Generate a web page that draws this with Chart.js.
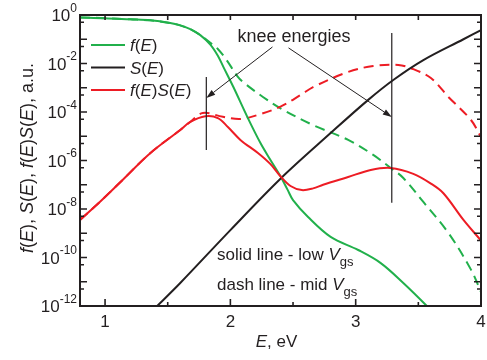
<!DOCTYPE html>
<html>
<head>
<meta charset="utf-8">
<script src="https://cdn.jsdelivr.net/npm/chart.js@4.4.0/dist/chart.umd.min.js"></script>
<style>
html,body{margin:0;padding:0;background:#fff}
</style>
</head>
<body>
<canvas id="grafico" width="487" height="360"></canvas>
<script>
// energies (eV) and values
var eFSolid = [0.8, 1.0, 1.2, 1.36, 1.52, 1.6, 1.68, 1.76, 1.84, 1.9, 1.944, 2.024, 2.136, 2.24, 2.32, 2.4, 2.456, 2.5, 2.62, 2.8, 3.02, 3.2, 3.38, 3.56, 3.6]
var fSolid = [0.794, 0.741, 0.661, 0.603, 0.468, 0.372, 0.263, 0.148, 0.0603, 0.0209, 7.24e-3, 1.07e-3, 6.17e-5, 5.25e-6, 1.05e-6, 2.24e-7, 6.31e-8, 2.34e-8, 4.68e-9, 7.08e-10, 2.04e-10, 5.89e-11, 8.91e-12, 1.1e-12, 6.31e-13]

var eFDash = [0.8, 1.0, 1.2, 1.36, 1.52, 1.6, 1.68, 1.76, 1.84, 1.9, 1.97, 2.06, 2.11, 2.26, 2.4, 2.66, 2.94, 3.14, 3.28, 3.38, 3.54, 3.74, 3.92, 4.0]
var fDash = [0.794, 0.741, 0.661, 0.603, 0.468, 0.372, 0.263, 0.148, 0.0708, 0.0398, 0.0138, 2.82e-3, 1.58e-3, 4.17e-4, 1.41e-4, 2.88e-5, 7.08e-6, 1.70e-6, 4.90e-7, 1.91e-7, 1.95e-8, 1.02e-9, 3.16e-11, 3.8e-12]

var eS = [1.4, 1.6, 2.0, 2.4, 2.8, 3.1, 3.3, 3.54, 3.86, 4.0]
var sVal = [8.3e-13, 8.91e-12, 1.35e-9, 1.78e-7, 1.35e-5, 3.16e-4, 2.09e-3, 0.0138, 0.1, 0.24]

var eFSSolid = [0.8, 0.96, 1.14, 1.36, 1.6, 1.68, 1.8, 1.9, 1.98, 2.08, 2.22, 2.32, 2.4, 2.48, 2.57, 2.66, 2.74, 2.94, 3.12, 3.28, 3.46, 3.6, 3.7, 3.86, 4.0]
var fsSolid = [3.55e-9, 2.0e-8, 1.58e-7, 2.0e-6, 1.82e-5, 3.89e-5, 6.61e-5, 5.62e-5, 2.40e-5, 7.08e-6, 2.04e-6, 7.08e-7, 2.24e-7, 8.91e-8, 6.03e-8, 7.08e-8, 1.0e-7, 2.09e-7, 4.07e-7, 4.90e-7, 2.82e-7, 1.12e-7, 4.47e-8, 3.55e-9, 5.01e-10]

var eFSDash = [0.8, 0.96, 1.14, 1.36, 1.6, 1.68, 1.78, 1.94, 2.08, 2.22, 2.4, 2.56, 2.66, 2.94, 3.14, 3.34, 3.44, 3.6, 3.74, 3.92, 4.0]
var fsDash = [3.55e-9, 2.0e-8, 1.58e-7, 2.0e-6, 1.82e-5, 3.89e-5, 9.12e-5, 6.31e-5, 5.13e-5, 7.59e-5, 1.66e-4, 5.01e-4, 1.07e-3, 4.47e-3, 7.94e-3, 8.71e-3, 6.46e-3, 2.51e-3, 4.17e-4, 4.68e-5, 9.33e-6]

// axes
var xTicks = [1, 1.5, 2, 2.5, 3, 3.5, 4]
var xLabels = ['1', '', '2', '', '3', '', '4']
var yDecades = [1e-12, 1e-11, 1e-10, 1e-9, 1e-8, 1e-7, 1e-6, 1e-5, 1e-4, 1e-3, 1e-2, 1e-1, 1]
var yHalf = [5e-12, 5e-11, 5e-10, 5e-9, 5e-8, 5e-7, 5e-6, 5e-5, 5e-4, 5e-3, 5e-2, 5e-1]
var yLabelVals = [1, 1e-2, 1e-4, 1e-6, 1e-8, 1e-10, 1e-12]
var yLabelExps = ['0', '-2', '-4', '-6', '-8', '-10', '-12']

// knee markers: E position, and top/bottom of the marker line
var kneeE = [1.808, 3.288]
var kneeTop = [2.8e-3, 0.18]
var kneeBottom = [2.7e-6, 1.8e-8]
// arrows from the text to the markers [E0, y0, E1, y1]
var arrows = [[2.336, 0.048, 1.808, 3.8e-4], [2.464, 0.044, 3.288, 6.2e-5]]

var VERDE = '#21b04b'
var PRETO = '#231f20'
var VERMELHO = '#ed1c24'
var FONTE = '"Liberation Sans", Arial, sans-serif'

function pontos(xs, ys) {
    return xs.map(function(x, i) { return { x: x, y: ys[i] } })
}

// draws text made of pieces: [text, style] style '' | 'i' | 'sub' | 'sup'
function textoRico(ctx, partes, x, y, tam, align) {
    function fonte(st) {
        var it = st == 'i' ? 'italic ' : ''
        var t = st == 'sub' ? Math.round(tam * 0.76) : (st == 'sup' ? Math.round(tam * 0.7) : tam)
        return it + t + 'px ' + FONTE
    }
    var total = 0
    partes.forEach(function(p) { ctx.font = fonte(p[1]); total += ctx.measureText(p[0]).width })
    var cx = x
    if (align == 'center') cx = x - total / 2
    if (align == 'right') cx = x - total
    ctx.textAlign = 'left'
    ctx.textBaseline = 'alphabetic'
    partes.forEach(function(p) {
        ctx.font = fonte(p[1])
        var dy = 0
        if (p[1] == 'sub') dy = tam * 0.36
        if (p[1] == 'sup') dy = -tam * 0.53
        ctx.fillText(p[0], cx, y + dy)
        cx += ctx.measureText(p[0]).width
    })
}

function seta(ctx, x0, y0, x1, y1) {
    var ang = Math.atan2(y1 - y0, x1 - x0)
    var L = 9, W = 3
    ctx.beginPath()
    ctx.moveTo(x0, y0)
    ctx.lineTo(x1 - L * Math.cos(ang), y1 - L * Math.sin(ang))
    ctx.stroke()
    ctx.beginPath()
    ctx.moveTo(x1, y1)
    ctx.lineTo(x1 - L * Math.cos(ang) + W * Math.sin(ang), y1 - L * Math.sin(ang) - W * Math.cos(ang))
    ctx.lineTo(x1 - L * Math.cos(ang) - W * Math.sin(ang), y1 - L * Math.sin(ang) + W * Math.cos(ang))
    ctx.closePath()
    ctx.fill()
}

var enfeites = {
    id: 'enfeites',
    afterDatasetsDraw: function(chart) {
        var ctx = chart.ctx
        var a = chart.chartArea
        var sx = chart.scales.x
        var sy = chart.scales.y
        ctx.save()
        ctx.strokeStyle = PRETO
        ctx.fillStyle = PRETO

        // knee markers and arrows
        ctx.lineWidth = 1.2
        kneeE.forEach(function(e, i) {
            var px = sx.getPixelForValue(e)
            ctx.beginPath()
            ctx.moveTo(px, sy.getPixelForValue(kneeTop[i]))
            ctx.lineTo(px, sy.getPixelForValue(kneeBottom[i]))
            ctx.stroke()
        })
        ctx.lineWidth = 1
        arrows.forEach(function(s) {
            seta(ctx, sx.getPixelForValue(s[0]), sy.getPixelForValue(s[1]), sx.getPixelForValue(s[2]), sy.getPixelForValue(s[3]))
        })

        // frame
        ctx.lineWidth = 2
        ctx.strokeRect(a.left, a.top, a.right - a.left, a.bottom - a.top)

        // ticks, inward
        ctx.lineWidth = 1.6
        ctx.beginPath()
        xTicks.forEach(function(v, i) {
            var px = sx.getPixelForValue(v)
            var len = xLabels[i] ? 7 : 4
            ctx.moveTo(px, a.bottom); ctx.lineTo(px, a.bottom - len)
            ctx.moveTo(px, a.top); ctx.lineTo(px, a.top + 5)
        })
        yDecades.forEach(function(v) {
            var py = sy.getPixelForValue(v)
            ctx.moveTo(a.left, py); ctx.lineTo(a.left + 7, py)
            ctx.moveTo(a.right, py); ctx.lineTo(a.right - 7, py)
        })
        yHalf.forEach(function(v) {
            var py = sy.getPixelForValue(v)
            ctx.moveTo(a.left, py); ctx.lineTo(a.left + 4, py)
            ctx.moveTo(a.right, py); ctx.lineTo(a.right - 4, py)
        })
        ctx.stroke()

        // tick labels
        ctx.textAlign = 'center'
        ctx.textBaseline = 'alphabetic'
        ctx.font = '17px ' + FONTE
        xTicks.forEach(function(v, i) {
            if (xLabels[i]) ctx.fillText(xLabels[i], sx.getPixelForValue(v), a.bottom + 21)
        })
        yLabelVals.forEach(function(v, i) {
            var py = sy.getPixelForValue(v)
            textoRico(ctx, [['10', ''], [yLabelExps[i], 'sup']], a.left - 3, py + 6, 17, 'right')
        })

        // axis titles
        textoRico(ctx, [['E', 'i'], [', eV', '']], (a.left + a.right) / 2 - 4, 347, 17, 'center')
        ctx.save()
        ctx.translate(33, 158)
        ctx.rotate(-Math.PI / 2)
        textoRico(ctx, [['f', 'i'], ['(', ''], ['E', 'i'], ['), ', ''], ['S', 'i'], ['(', ''], ['E', 'i'], ['), ', ''],
            ['f', 'i'], ['(', ''], ['E', 'i'], [')', ''], ['S', 'i'], ['(', ''], ['E', 'i'], ['), a.u.', '']], 0, 0, 18, 'center')
        ctx.restore()

        // legend
        var itens = [
            [VERDE, [['f', 'i'], ['(', ''], ['E', 'i'], [')', '']]],
            [PRETO, [['S', 'i'], ['(', ''], ['E', 'i'], [')', '']]],
            [VERMELHO, [['f', 'i'], ['(', ''], ['E', 'i'], [')', ''], ['S', 'i'], ['(', ''], ['E', 'i'], [')', '']]]
        ]
        itens.forEach(function(it, i) {
            var py = 45 + i * 22.5
            ctx.strokeStyle = it[0]
            ctx.lineWidth = 2
            ctx.beginPath()
            ctx.moveTo(a.left + 11, py)
            ctx.lineTo(a.left + 45, py)
            ctx.stroke()
            ctx.fillStyle = PRETO
            textoRico(ctx, it[1], a.left + 50, py + 6, 17, 'left')
        })

        // notes
        ctx.fillStyle = PRETO
        textoRico(ctx, [['knee energies', '']], 294, 42, 18, 'center')
        textoRico(ctx, [['solid line - low ', ''], ['V', 'i'], ['gs', 'sub']], 217, 260, 17, 'left')
        textoRico(ctx, [['dash line - mid ', ''], ['V', 'i'], ['gs', 'sub']], 217, 290, 17, 'left')
        ctx.restore()
    }
}

var ctx = document.getElementById('grafico').getContext('2d')
var grafico = new Chart(ctx, {
    type: 'line',
    data: {
        datasets: [
            { label: 'f(E)S(E) low', data: pontos(eFSSolid, fsSolid), borderColor: VERMELHO },
            { label: 'S(E)', data: pontos(eS, sVal), borderColor: PRETO },
            { label: 'f(E) low', data: pontos(eFSolid, fSolid), borderColor: VERDE },
            { label: 'f(E)S(E) mid', data: pontos(eFSDash, fsDash), borderColor: VERMELHO, borderDash: [10, 6] },
            { label: 'f(E) mid', data: pontos(eFDash, fDash), borderColor: VERDE, borderDash: [10, 6] }
        ]
    },
    options: {
        responsive: false,
        animation: false,
        events: [],
        layout: { padding: { left: 0, right: 6, top: 15, bottom: 0 } },
        elements: {
            point: { radius: 0 },
            line: { borderWidth: 2, tension: 0.35, fill: false }
        },
        scales: {
            x: {
                type: 'linear',
                min: 0.8,
                max: 4,
                grid: { display: false },
                border: { display: false },
                ticks: { display: false },
                afterBuildTicks: function(s) { s.ticks = xTicks.map(function(v) { return { value: v } }) },
                afterFit: function(s) { s.height = 54 }
            },
            y: {
                type: 'logarithmic',
                min: 1e-12,
                max: 1,
                grid: { display: false },
                border: { display: false },
                ticks: { display: false },
                afterBuildTicks: function(s) { s.ticks = yDecades.map(function(v) { return { value: v } }) },
                afterFit: function(s) { s.width = 80 }
            }
        },
        plugins: {
            legend: { display: false },
            tooltip: { enabled: false }
        }
    },
    plugins: [enfeites]
})
</script>
</body>
</html>
